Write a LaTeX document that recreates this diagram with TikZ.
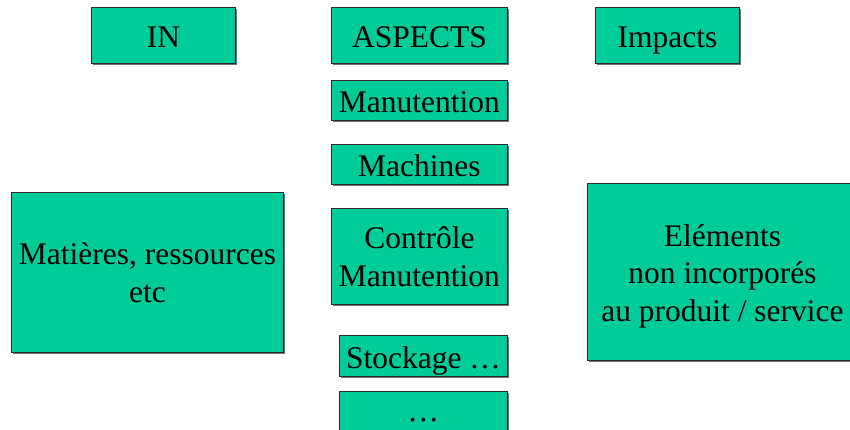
\documentclass[tikz,border=0pt]{standalone}
\usepackage{fontspec}
\setmainfont{Liberation Serif}
\usetikzlibrary{shadows}
\definecolor{boxgreen}{HTML}{00CC99}
\definecolor{boxline}{HTML}{2A2A2A}
\tikzset{
  box/.style={draw=boxline, fill=boxgreen, line width=0.9pt, rectangle, anchor=north west, inner sep=0pt,
    align=center, font=\fontsize{31.5}{37.5}\selectfont,
    drop shadow={shadow xshift=1.2pt, shadow yshift=-1.2pt, fill=black!55, opacity=1}},
  oneline/.style={text height=24.6pt, text depth=0pt}
}
\begin{document}
\begin{tikzpicture}[x=1pt,y=1pt]
\useasboundingbox (0,0) rectangle (850,-429);
\clip (0,0) rectangle (850,-429);
\node[box, oneline, minimum width=144, minimum height=56] (in) at (91,-7) {IN};
\node[box, oneline, minimum width=176, minimum height=56] (aspects) at (331,-7) {ASPECTS};
\node[box, oneline, minimum width=144, minimum height=56] (impacts) at (595,-7) {Impacts};
\node[box, oneline, minimum width=176, minimum height=40] (manut) at (331,-80) {Manutention};
\node[box, oneline, minimum width=176, minimum height=40] (machines) at (331,-144) {Machines};
\node[box, minimum width=176, minimum height=96] (controle) at (331,-208) {Contrôle\\Manutention};
\node[box, oneline, minimum width=168, minimum height=41] (stock) at (339,-335) {Stockage …};
\node[box, minimum width=168, minimum height=41] (dots) at (339,-391) {\raisebox{-8pt}[\height][\depth]{…}};
\node[box, minimum width=270, minimum height=177] (elements) at (587,-183) {\raisebox{-4pt}[\height][\depth]{\parbox{270pt}{\centering Eléments\\non incorporés\\au produit / service}}};
\node[box, minimum width=272, minimum height=160] (matieres) at (11,-192) {Matières, ressources\\etc};
\end{tikzpicture}
\end{document}
